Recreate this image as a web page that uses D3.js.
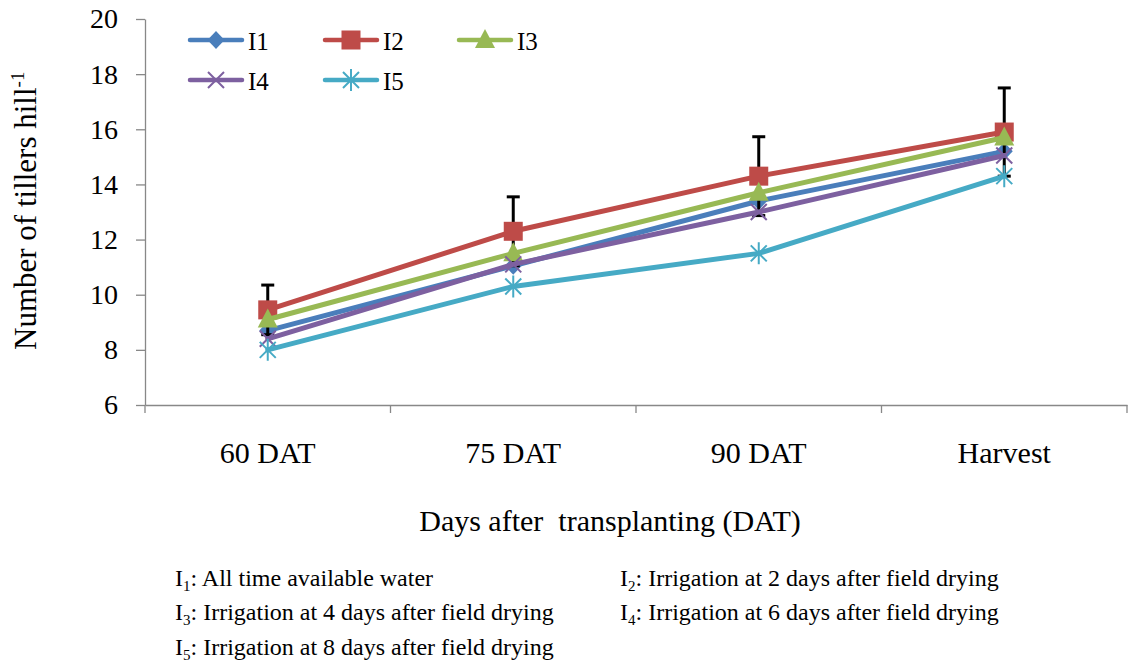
<!DOCTYPE html>
<html><head><meta charset="utf-8">
<script src="https://cdn.jsdelivr.net/npm/d3@7"></script>
<style>body{margin:0;background:#fff}svg{display:block}</style>
</head><body><svg id="c" width="1131" height="663"></svg>
<script>
const categories = ["60 DAT", "75 DAT", "90 DAT", "Harvest"];
const seriesNames = ["I1", "I2", "I3", "I4", "I5"];
const I1 = [8.7, 11.05, 13.4, 15.2];
const I2 = [9.45, 12.3, 14.3, 15.9];
const I3 = [9.1, 11.5, 13.7, 15.7];
const I4 = [8.4, 11.1, 13.0, 15.05];
const I5 = [8.0, 10.3, 11.5, 14.3];
const I2err = [0.9, 1.25, 1.43, 1.6];
const yTicks = [6, 8, 10, 12, 14, 16, 18, 20];
const footnotes = [
  ["1", ": All time available water"],
  ["2", ": Irrigation at 2 days after field drying"],
  ["3", ": Irrigation at 4 days after field drying"],
  ["4", ": Irrigation at 6 days after field drying"],
  ["5", ": Irrigation at 8 days after field drying"]
];

const FONT = "'Liberation Serif'";
const colors = ["#4a7ebb", "#be4b48", "#98b954", "#7d60a0", "#46aac5"];
const markers = ["diamond", "square", "triangle", "x", "star"];
const values = [I1, I2, I3, I4, I5];

const svg = d3.select("#c");
const L = 145, R = 1127, T = 19, B = 405;
const x = d3.scaleBand().domain(categories).range([L, R]);
const y = d3.scaleLinear().domain([6, 20]).range([B, T]);
const axisColor = "#888";
const cxOf = i => x(categories[i]) + x.bandwidth() / 2;
const txt = (sel) => sel.style("font-family", FONT).attr("fill", "#000");

// Y axis
const ya = svg.append("g").attr("transform", `translate(${L},0)`)
  .call(d3.axisLeft(y).tickValues(yTicks).tickSize(9).tickPadding(18).tickSizeOuter(0));
ya.select(".domain").attr("stroke", axisColor).attr("stroke-width", 1.3);
ya.selectAll(".tick line").attr("stroke", axisColor).attr("stroke-width", 1.3);
ya.selectAll(".tick text").call(txt).attr("font-size", 28);

// X axis
const xa = svg.append("g").attr("transform", `translate(0,${B})`)
  .call(d3.axisBottom(x).tickSize(0).tickPadding(36).tickSizeOuter(0));
xa.select(".domain").attr("stroke", axisColor).attr("stroke-width", 1.3);
xa.selectAll(".tick text").call(txt).attr("font-size", 30).attr("dy", 0).attr("y", 58);
const bounds = categories.map(c => x(c)).concat([R]);
svg.append("g").selectAll("line").data(bounds).join("line")
  .attr("x1", d => d).attr("x2", d => d).attr("y1", B).attr("y2", B + 8)
  .attr("stroke", axisColor).attr("stroke-width", 1.3);

// Titles
svg.append("text").attr("x", 610).attr("y", 531).attr("text-anchor", "middle").call(txt)
  .attr("font-size", 30).style("white-space", "pre").text("Days after  transplanting (DAT)");
const yt = svg.append("text").attr("transform", "translate(36,350) rotate(-90)").call(txt)
  .attr("text-anchor", "start").attr("font-size", 31);
yt.append("tspan").text("Number of tillers hill");
yt.append("tspan").attr("font-size", 19).attr("dy", -12).text("-1");

function marker(g, type, cx, cy, color) {
  if (type === "diamond") {
    g.append("path").attr("d", `M${cx},${cy - 9}L${cx + 8.5},${cy}L${cx},${cy + 9}L${cx - 8.5},${cy}Z`).attr("fill", color);
  } else if (type === "square") {
    g.append("rect").attr("x", cx - 9.5).attr("y", cy - 9.5).attr("width", 19).attr("height", 19).attr("fill", color);
  } else if (type === "triangle") {
    g.append("path").attr("d", `M${cx},${cy - 11}L${cx + 10},${cy + 8}L${cx - 10},${cy + 8}Z`).attr("fill", color);
  } else if (type === "x") {
    g.append("path").attr("d", `M${cx - 8},${cy - 8}L${cx + 8},${cy + 8}M${cx - 8},${cy + 8}L${cx + 8},${cy - 8}`).attr("stroke", color).attr("stroke-width", 2);
  } else if (type === "star") {
    g.append("path").attr("d", `M${cx - 8},${cy - 8}L${cx + 8},${cy + 8}M${cx - 8},${cy + 8}L${cx + 8},${cy - 8}M${cx},${cy - 11}L${cx},${cy + 11}`).attr("stroke", color).attr("stroke-width", 2);
  }
}

const line = d3.line().x((d, i) => cxOf(i)).y(d => y(d));
seriesNames.forEach((name, s) => {
  const g = svg.append("g");
  g.append("path").datum(values[s]).attr("d", line).attr("fill", "none")
    .attr("stroke", colors[s]).attr("stroke-width", 5).attr("stroke-linejoin", "round").attr("stroke-linecap", "round");
  if (name === "I2") {
    values[s].forEach((v, i) => {
      const cx = cxOf(i);
      const e = I2err[i];
      g.append("line").attr("x1", cx).attr("x2", cx).attr("y1", y(v - e)).attr("y2", y(v + e)).attr("stroke", "#000").attr("stroke-width", 3);
      [v - e, v + e].forEach(t => g.append("line").attr("x1", cx - 6.5).attr("x2", cx + 6.5).attr("y1", y(t)).attr("y2", y(t)).attr("stroke", "#000").attr("stroke-width", 3));
    });
  }
  values[s].forEach((v, i) => marker(g, markers[s], cxOf(i), y(v), colors[s]));
});

// Legend
const legPos = [[190, 40], [325, 40], [459, 40], [190, 80], [325, 80]];
seriesNames.forEach((name, s) => {
  const [lx, ly] = legPos[s];
  const g = svg.append("g");
  g.append("line").attr("x1", lx).attr("x2", lx + 52).attr("y1", ly).attr("y2", ly)
    .attr("stroke", colors[s]).attr("stroke-width", 4.5).attr("stroke-linecap", "round");
  marker(g, markers[s], lx + 26, ly, colors[s]);
  g.append("text").attr("x", lx + 58).attr("y", ly + 10).call(txt).attr("font-size", 25).text(name);
});

// Footnotes
const fnPos = [[175, 586], [620, 586], [175, 620], [620, 620], [175, 655]];
footnotes.forEach((f, i) => {
  const t = svg.append("text").attr("x", fnPos[i][0]).attr("y", fnPos[i][1]).call(txt).attr("font-size", 24);
  t.append("tspan").text("I");
  t.append("tspan").attr("font-size", 15).attr("dy", 5).text(f[0]);
  t.append("tspan").attr("dy", -5).text(f[1]);
});
</script></body></html>
